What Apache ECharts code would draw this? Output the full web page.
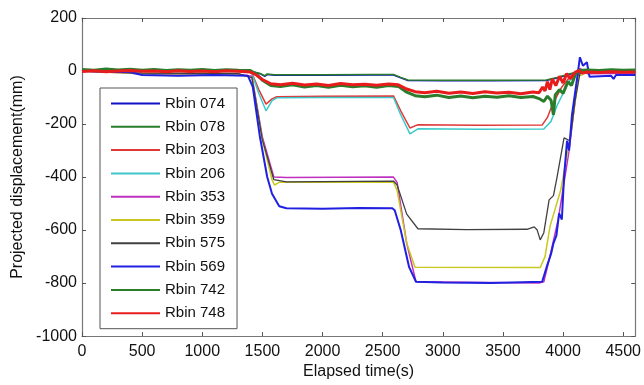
<!DOCTYPE html>
<html>
<head>
<meta charset="utf-8">
<script src="https://cdn.jsdelivr.net/npm/echarts@6/dist/echarts.min.js"></script>
<style>
  html, body { margin: 0; padding: 0; background: #fff; }
  #chart { width: 644px; height: 385px; }
</style>
</head>
<body>
<div id="chart"></div>
<script>
// values: [elapsed time (s), projected displacement (mm)]
const xTicks = [0, 500, 1000, 1500, 2000, 2500, 3000, 3500, 4000, 4500]
const yTicks = [-1000, -800, -600, -400, -200, 0, 200]

const rbin074 = [[0,2],[300,4],[600,1],[900,-1],[1200,1],[1400,-1],[1480,-10],[1520,-20],[1540,-13],[1600,-16],[2000,-16],[2400,-15],[2590,-15],[2650,-26],[2710,-36],[3000,-37],[3400,-37],[3860,-36],[3950,-26],[4050,-13],[4120,-5],[4300,-4],[4600,-4]]
const rbin078 = [[0,3],[300,5],[600,2],[900,0],[1200,2],[1400,0],[1480,-9],[1520,-18],[1540,-11],[1600,-14],[2000,-14],[2400,-13],[2590,-13],[2650,-24],[2710,-34],[3000,-35],[3400,-35],[3860,-34],[3950,-24],[4050,-11],[4120,-3],[4300,-2],[4600,-2]]
const rbin203 = [[0,0],[700,-2],[1300,-1],[1410,-5],[1470,-70],[1530,-125],[1580,-105],[1620,-97],[2000,-95],[2590,-94],[2650,-150],[2727,-215],[2790,-203],[3300,-205],[3826,-204],[3870,-175],[3909,-129],[3990,-60],[4060,-20],[4116,-2],[4200,-6],[4600,-5]]
const rbin206 = [[0,0],[700,-2],[1300,-1],[1410,-6],[1470,-85],[1530,-150],[1580,-112],[1620,-101],[2000,-100],[2590,-100],[2650,-165],[2727,-237],[2793,-218],[3300,-220],[3840,-219],[3900,-190],[3950,-130],[4050,-40],[4116,-3],[4200,-7],[4600,-6]]
const rbin353 = [[0,0],[500,-10],[1300,-12],[1413,-20],[1500,-250],[1595,-400],[1700,-402],[2590,-400],[2620,-420],[2700,-650],[2777,-795],[3800,-800],[3840,-795],[3880,-720],[3960,-560],[4050,-300],[4116,-50],[4140,10],[4200,-10],[4600,-8]]
const rbin359 = [[0,0],[500,-10],[1300,-12],[1413,-25],[1500,-260],[1580,-410],[1600,-430],[1640,-420],[2590,-420],[2620,-450],[2700,-650],[2769,-740],[3810,-741],[3850,-700],[3892,-585],[3980,-450],[4060,-250],[4130,-20],[4200,-5],[4600,-5]]
const rbin575 = [[0,0],[500,-8],[1300,-10],[1413,-25],[1500,-260],[1595,-410],[1700,-418],[2590,-415],[2620,-430],[2700,-540],[2793,-595],[3200,-598],[3700,-597],[3760,-588],[3785,-600],[3810,-637],[3840,-610],[3884,-486],[3920,-470],[3950,-400],[4008,-252],[4058,-263],[4099,-115],[4140,-10],[4200,-5],[4600,-5]]
const rbin569 = [[0,0],[400,-5],[500,-15],[800,-18],[1100,-15],[1380,-18],[1420,-60],[1480,-250],[1540,-400],[1580,-463],[1640,-510],[1700,-518],[2000,-520],[2300,-517],[2580,-518],[2600,-525],[2650,-600],[2720,-740],[2777,-795],[3000,-798],[3400,-800],[3826,-795],[3868,-733],[3900,-690],[3920,-650],[3945,-620],[3967,-537],[3990,-560],[4008,-400],[4033,-263],[4050,-300],[4074,-166],[4116,-30],[4140,52],[4165,20],[4198,33],[4220,-22],[4400,-18],[4420,-30],[4440,-15],[4600,-15]]
const rbin742 = [[0,6],[100,3],[200,8],[300,4],[400,7],[500,3],[600,6],[700,2],[800,5],[900,3],[1000,6],[1100,2],[1200,5],[1300,3],[1400,2],[1450,-12],[1500,-35],[1570,-55],[1650,-58],[1750,-52],[1850,-60],[1950,-55],[2050,-61],[2150,-54],[2250,-59],[2350,-56],[2450,-61],[2550,-55],[2630,-58],[2700,-80],[2770,-93],[2850,-97],[2950,-91],[3050,-100],[3150,-94],[3250,-101],[3350,-95],[3450,-99],[3550,-93],[3650,-100],[3750,-96],[3800,-104],[3840,-115],[3870,-95],[3900,-110],[3920,-165],[3935,-90],[3970,-70],[4000,-85],[4040,-40],[4070,-55],[4100,-15],[4130,2],[4200,4],[4300,2],[4400,5],[4500,3],[4600,4]]
const rbin748 = [[0,-2],[100,1],[200,-3],[300,0],[400,2],[500,-1],[600,0],[700,-3],[800,1],[900,-2],[1000,0],[1100,-3],[1200,1],[1300,-1],[1400,-4],[1450,-15],[1500,-32],[1570,-48],[1650,-52],[1750,-46],[1850,-53],[1950,-49],[2050,-55],[2150,-47],[2250,-52],[2350,-50],[2450,-54],[2550,-49],[2630,-52],[2700,-68],[2770,-78],[2850,-82],[2950,-76],[3050,-84],[3150,-79],[3250,-85],[3350,-78],[3450,-83],[3550,-80],[3650,-86],[3750,-79],[3800,-82],[3830,-60],[3850,-75],[3870,-40],[3890,-70],[3910,-30],[3940,-55],[3970,-20],[4000,-45],[4030,-10],[4060,-30],[4100,-5],[4130,2],[4160,-8],[4200,-4],[4300,-6],[4400,-3],[4500,-5],[4600,-4]]

const seriesNames = ['Rbin 074', 'Rbin 078', 'Rbin 203', 'Rbin 206', 'Rbin 353', 'Rbin 359', 'Rbin 575', 'Rbin 569', 'Rbin 742', 'Rbin 748']
const seriesData = [rbin074, rbin078, rbin203, rbin206, rbin353, rbin359, rbin575, rbin569, rbin742, rbin748]
const seriesColors = ['#1010c8', '#2a7d2a', '#e03838', '#3cc8c8', '#c030c0', '#c8c820', '#404040', '#2020e0', '#2a7d2a', '#e81c1c']
const seriesWidths = [1.5, 1.5, 1.5, 1.5, 1.5, 1.5, 1.3, 2, 3, 3]

const font = 'Liberation Sans, Arial, sans-serif'
const axisColor = '#777'

const chart = echarts.init(document.getElementById('chart'), null, { renderer: 'canvas' })

// box around the plot, matlab style ticks pointing inwards
const frameAxis = () => ({
  axisLine: { show: true, onZero: false, lineStyle: { color: axisColor, width: 1.2 } },
  axisTick: { show: true, inside: true, length: 4, lineStyle: { color: '#555' } },
  splitLine: { show: false },
})

chart.setOption({
  animation: false,
  grid: { left: 82, right: 7, top: 18, bottom: 43 },
  legend: {
    orient: 'vertical',
    left: 100,
    top: 88,
    data: seriesNames,
    icon: 'rect',
    itemWidth: 49,
    itemHeight: 2,
    itemGap: 6.3,
    itemTextGap: 6,
    padding: [7, 12, 7, 11],
    backgroundColor: '#fff',
    borderColor: '#555',
    borderWidth: 1,
    textStyle: { fontFamily: font, fontSize: 15, color: '#111', lineHeight: 17 },
  },
  xAxis: [
    {
      type: 'value', min: 0, max: 4600, interval: 500,
      name: 'Elapsed time(s)', nameLocation: 'middle', nameGap: 24,
      nameTextStyle: { fontFamily: font, fontSize: 16, color: '#111' },
      axisLabel: { fontFamily: font, fontSize: 16, color: '#111', margin: 7, showMaxLabel: false,
        formatter: v => xTicks.includes(v) ? String(v) : '' },
      ...frameAxis(),
    },
    {
      type: 'value', min: 0, max: 4600, interval: 500, position: 'top',
      axisLabel: { show: false },
      ...frameAxis(),
    },
  ],
  yAxis: [
    {
      type: 'value', min: -1000, max: 200, interval: 200,
      name: 'Projected displacement(mm)', nameLocation: 'middle', nameGap: 55,
      nameTextStyle: { fontFamily: font, fontSize: 16, color: '#111' },
      axisLabel: { fontFamily: font, fontSize: 16, color: '#111', margin: 5,
        formatter: v => yTicks.includes(v) ? String(v) : '' },
      ...frameAxis(),
    },
    {
      type: 'value', min: -1000, max: 200, interval: 200, position: 'right',
      axisLabel: { show: false },
      ...frameAxis(),
    },
  ],
  series: seriesNames.map((name, i) => ({
    name,
    type: 'line',
    data: seriesData[i],
    xAxisIndex: 0,
    yAxisIndex: 0,
    color: seriesColors[i],
    showSymbol: false,
    symbol: 'none',
    lineStyle: { width: seriesWidths[i], color: seriesColors[i] },
  })),
})
</script>
</body>
</html>
